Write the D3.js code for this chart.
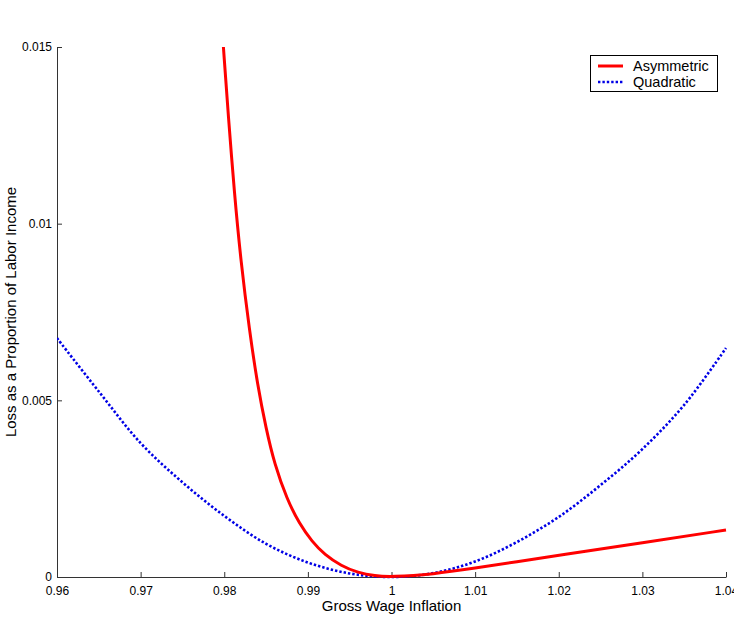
<!DOCTYPE html>
<html>
<head>
<meta charset="utf-8">
<script src="https://cdn.jsdelivr.net/npm/d3@7"></script>
<style>
  html, body { margin: 0; padding: 0; background: #fff; }
  svg { display: block; font-family: "Liberation Sans", Arial, Helvetica, sans-serif; }
</style>
</head>
<body>
<svg id="chart" width="734" height="639"></svg>
<script>
// ---- data ----
const xTicks = [0.96, 0.97, 0.98, 0.99, 1.00, 1.01, 1.02, 1.03, 1.04];
const xTickLabels = ["0.96", "0.97", "0.98", "0.99", "1", "1.01", "1.02", "1.03", "1.04"];
const yTicks = [0, 0.005, 0.01, 0.015];
const yTickLabels = ["0", "0.005", "0.01", "0.015"];

const asymX = [0.9799, 0.9805, 0.9812, 0.9820, 0.9830, 0.9840, 0.9850, 0.9860, 0.9875, 0.9890, 0.9905, 0.9920, 0.9940, 0.9960, 0.9980, 1.0000, 1.0050, 1.0100, 1.0150, 1.0200, 1.0300, 1.0400];
const asymY = [0.0150, 0.0130, 0.0109, 0.0089, 0.0070, 0.0054, 0.0042, 0.0032, 0.0022, 0.00150, 0.00100, 0.00063, 0.00031, 0.00012, 0.00003, 0.0000, 0.00008, 0.00025, 0.00043, 0.00062, 0.00097, 0.00133];

const quadX = [0.960, 0.965, 0.970, 0.975, 0.980, 0.985, 0.990, 0.995, 1.000, 1.005, 1.010, 1.015, 1.020, 1.025, 1.030, 1.035, 1.040];
const quadY = [0.00676, 0.00525, 0.00379, 0.00268, 0.00173, 0.00094, 0.00041, 0.00010, 0.0, 0.00011, 0.00044, 0.00099, 0.00170, 0.00260, 0.00362, 0.00487, 0.00648];

const seriesNames = ["Asymmetric", "Quadratic"];

// ---- layout ----
const svg = d3.select("#chart");
const mLeft = 57, mRight = 726, mTop = 47, mBottom = 577;

const x = d3.scaleLinear().domain([0.96, 1.04]).range([mLeft, mRight]);
const y = d3.scaleLinear().domain([0, 0.015]).range([mBottom, mTop]);

svg.append("defs").append("clipPath").attr("id", "plotclip")
  .append("rect").attr("x", mLeft).attr("y", mTop - 2).attr("width", mRight - mLeft + 2).attr("height", mBottom - mTop + 4);

const axisColor = "#333";

// x axis
const gx = svg.append("g").attr("transform", `translate(0,${mBottom})`)
  .call(d3.axisBottom(x).tickValues(xTicks).tickFormat((d, i) => xTickLabels[i])
    .tickSizeInner(-5).tickSizeOuter(0).tickPadding(9));
gx.select(".domain").attr("stroke", axisColor);
gx.selectAll(".tick line").attr("stroke", axisColor);
gx.selectAll(".tick text").attr("font-size", 12).attr("fill", "#000")
  .attr("font-family", "Liberation Sans, Arial, sans-serif");

// y axis
const gy = svg.append("g").attr("transform", `translate(${mLeft},0)`)
  .call(d3.axisLeft(y).tickValues(yTicks).tickFormat((d, i) => yTickLabels[i])
    .tickSizeInner(-5).tickSizeOuter(0).tickPadding(5));
gy.select(".domain").attr("stroke", axisColor);
gy.selectAll(".tick line").attr("stroke", axisColor);
gy.selectAll(".tick text").attr("font-size", 12).attr("fill", "#000")
  .attr("font-family", "Liberation Sans, Arial, sans-serif");

// axis labels
svg.append("text").attr("x", (mLeft + mRight) / 2).attr("y", 611)
  .attr("text-anchor", "middle").attr("font-size", 15).text("Gross Wage Inflation");
svg.append("text").attr("transform", `translate(16,${(mTop + mBottom) / 2}) rotate(-90)`)
  .attr("text-anchor", "middle").attr("font-size", 15).text("Loss as a Proportion of Labor Income");

// lines
const lineQ = d3.line().x(d => x(d[0])).y(d => y(d[1])).curve(d3.curveCatmullRom.alpha(0.5));
const lineA = d3.line().x(d => x(d[0])).y(d => y(d[1])).curve(d3.curveBasis);
const plot = svg.append("g").attr("clip-path", "url(#plotclip)");

plot.append("path").datum(quadX.map((v, i) => [v, quadY[i]]))
  .attr("d", lineQ).attr("fill", "none").attr("stroke", "#0000e6")
  .attr("stroke-width", 2.6).attr("stroke-dasharray", "2.4,2.0");

plot.append("path").datum(asymX.map((v, i) => [v, asymY[i]]))
  .attr("d", lineA).attr("fill", "none").attr("stroke", "#ff0000")
  .attr("stroke-width", 3);

// legend
const lg = svg.append("g");
lg.append("rect").attr("x", 590.5).attr("y", 55.5).attr("width", 127).attr("height", 36)
  .attr("fill", "#fff").attr("stroke", "#000").attr("stroke-width", 1);
lg.append("line").attr("x1", 598).attr("x2", 623).attr("y1", 66).attr("y2", 66)
  .attr("stroke", "#ff0000").attr("stroke-width", 3);
lg.append("line").attr("x1", 598).attr("x2", 623).attr("y1", 82).attr("y2", 82)
  .attr("stroke", "#0000e6").attr("stroke-width", 2.6).attr("stroke-dasharray", "2.4,2.0");
lg.append("text").attr("x", 633).attr("y", 70.5).attr("font-size", 14.5).text(seriesNames[0]);
lg.append("text").attr("x", 633).attr("y", 87).attr("font-size", 14.5).text(seriesNames[1]);
</script>
</body>
</html>
